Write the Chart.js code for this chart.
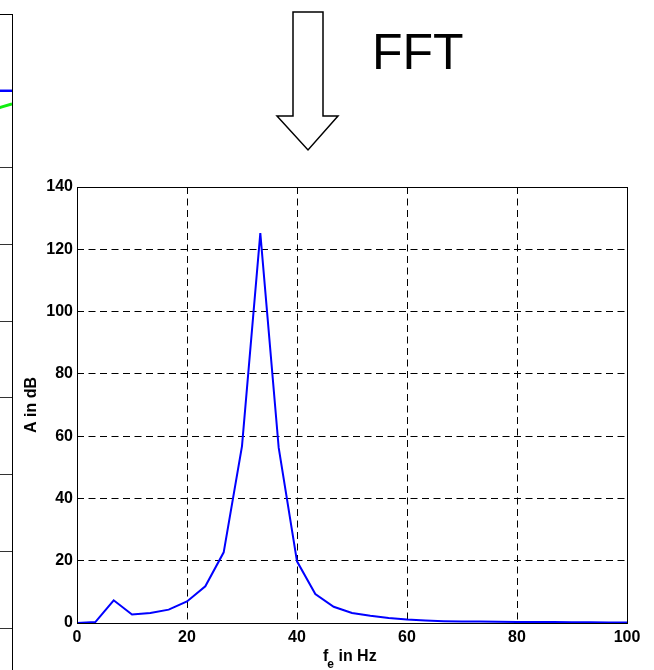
<!DOCTYPE html>
<html>
<head>
<meta charset="utf-8">
<script src="https://cdn.jsdelivr.net/npm/chart.js@4"></script>
<style>
  html, body { margin: 0; padding: 0; background: #fff; overflow: hidden; }
  #wrap { position: relative; width: 654px; height: 670px; overflow: hidden; }
  #main { position: absolute; left: 0; top: 0; }
  #prev { position: absolute; left: -189px; top: 13px; }
</style>
</head>
<body>
<div id="wrap">
  <canvas id="prev" width="202" height="692"></canvas>
  <canvas id="main" width="654" height="670"></canvas>
</div>
<script>
// FFT spectrum: frequency bins (Hz) and amplitude (dB)
const freqHz = [0, 3.33, 6.67, 10, 13.33, 16.67, 20, 23.33, 26.67, 30,
    33.33, 36.67, 40, 43.33, 46.67, 50, 53.33, 56.67, 60, 63.33,
    66.67, 70, 73.33, 76.67, 80, 83.33, 86.67, 90, 93.33, 96.67, 100];
const ampDb = [0, 0.3, 7.3, 2.7, 3.2, 4.3, 6.9, 11.8, 22.7, 56.8,
    125.2, 56.3, 19.8, 9.3, 5.2, 3.2, 2.3, 1.6, 1.1, 0.8,
    0.6, 0.5, 0.45, 0.4, 0.35, 0.3, 0.3, 0.25, 0.25, 0.2, 0.2];
const xTicks = [0, 20, 40, 60, 80, 100];
const yTicks = [0, 20, 40, 60, 80, 100, 120, 140];

// edge of the preceding (time-domain) plot, cut off at the left border
const prevX = [90, 95, 100];
const prevBlue = [8, 8, 8];
const prevGreen = [7.75, 7.79, 7.83];

const FONT = 'Arial, "Liberation Sans", Helvetica, sans-serif';

// plot frame (MATLAB box on)
const boxPlugin = {
    id: 'box',
    afterDraw(chart) {
        const { ctx, chartArea: a } = chart;
        ctx.save();
        ctx.strokeStyle = '#000';
        ctx.lineWidth = 1;
        ctx.strokeRect(Math.round(a.left) + 0.5, Math.round(a.top) + 0.5,
            Math.round(a.right - a.left), Math.round(a.bottom - a.top));
        ctx.restore();
    },
};

// arrow, "FFT" caption and axis titles
const decoPlugin = {
    id: 'deco',
    afterDraw(chart) {
        const { ctx, chartArea: a } = chart;
        ctx.save();

        // outlined down arrow
        ctx.beginPath();
        ctx.moveTo(293, 12);
        ctx.lineTo(323, 12);
        ctx.lineTo(323, 116);
        ctx.lineTo(338, 116);
        ctx.lineTo(308, 150);
        ctx.lineTo(277, 116);
        ctx.lineTo(293, 116);
        ctx.closePath();
        ctx.fillStyle = '#fff';
        ctx.fill();
        ctx.strokeStyle = '#000';
        ctx.lineWidth = 1.5;
        ctx.stroke();

        ctx.fillStyle = '#000';
        ctx.font = '50px ' + FONT;
        ctx.textAlign = 'left';
        ctx.textBaseline = 'alphabetic';
        ctx.fillText('FFT', 372, 69);

        // y title
        ctx.font = 'bold 16px ' + FONT;
        ctx.save();
        ctx.translate(36, (a.top + a.bottom) / 2);
        ctx.rotate(-Math.PI / 2);
        ctx.textAlign = 'center';
        ctx.fillText('A in dB', 0, 0);
        ctx.restore();

        // x title with subscript
        ctx.textAlign = 'left';
        const x0 = 323;
        const base = 661;
        ctx.font = 'bold 16px ' + FONT;
        ctx.fillText('f', x0, base);
        const fw = ctx.measureText('f').width;
        ctx.font = 'bold 12px ' + FONT;
        ctx.fillText('e', x0 + fw - 1, base + 7);
        const ew = ctx.measureText('e').width;
        ctx.font = 'bold 16px ' + FONT;
        ctx.fillText(' in Hz', x0 + fw - 1 + ew, base);

        ctx.restore();
    },
};

const dash = [7, 4.5];
const tickFont = { family: FONT, size: 16, weight: 'bold' };

new Chart(document.getElementById('main'), {
    type: 'line',
    data: {
        datasets: [{
            data: freqHz.map((f, i) => ({ x: f, y: ampDb[i] })),
            borderColor: '#0000ff',
            borderWidth: 2,
            pointRadius: 0,
            tension: 0,
            fill: false,
        }],
    },
    options: {
        responsive: false,
        animation: false,
        layout: { padding: { left: 0, top: 187, right: 27, bottom: 0 } },
        plugins: {
            legend: { display: false },
            tooltip: { enabled: false },
        },
        scales: {
            x: {
                type: 'linear',
                min: 0,
                max: 100,
                afterBuildTicks: (s) => { s.ticks = xTicks.map(v => ({ value: v })); },
                afterFit: (s) => { s.height = 47; },
                grid: {
                    color: '#000',
                    lineWidth: (c) => (c.tick && (c.tick.value === 0 || c.tick.value === 100) ? 0 : 1),
                    drawTicks: false,
                },
                border: { display: false, dash: dash },
                ticks: { color: '#000', font: tickFont, padding: 5, maxRotation: 0 },
            },
            y: {
                type: 'linear',
                min: 0,
                max: 140,
                afterBuildTicks: (s) => { s.ticks = yTicks.map(v => ({ value: v })); },
                afterFit: (s) => { s.width = 77; },
                grid: {
                    color: '#000',
                    lineWidth: (c) => (c.tick && (c.tick.value === 0 || c.tick.value === 140) ? 0 : 1),
                    drawTicks: false,
                },
                border: { display: false, dash: dash },
                ticks: { color: '#000', font: tickFont, padding: 4 },
            },
        },
    },
    plugins: [boxPlugin, decoPlugin],
});

new Chart(document.getElementById('prev'), {
    type: 'line',
    data: {
        datasets: [{
            data: prevX.map((x, i) => ({ x: x, y: prevBlue[i] })),
            borderColor: '#0000ff',
            borderWidth: 2.5,
            pointRadius: 0,
        }, {
            data: prevX.map((x, i) => ({ x: x, y: prevGreen[i] })),
            borderColor: '#11ee11',
            borderWidth: 3,
            pointRadius: 0,
        }],
    },
    options: {
        responsive: false,
        animation: false,
        layout: { padding: { top: 1, right: 1, left: 0, bottom: 0 } },
        plugins: { legend: { display: false }, tooltip: { enabled: false } },
        scales: {
            x: { type: 'linear', min: 0, max: 100, display: false },
            y: {
                type: 'linear', min: 0, max: 9,
                ticks: { display: false, stepSize: 1 },
                grid: { color: '#333', drawTicks: false },
                border: { display: false },
            },
        },
    },
    plugins: [boxPlugin],
});
</script>
</body>
</html>
